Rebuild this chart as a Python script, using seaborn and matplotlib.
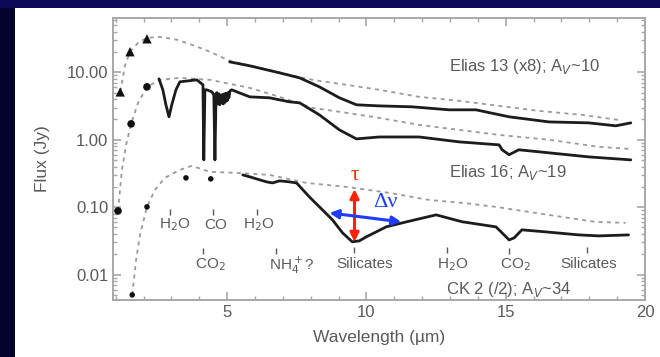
import matplotlib
matplotlib.use("Agg")
import numpy as np
import pandas as pd
import matplotlib.pyplot as plt
import seaborn as sns
from matplotlib.patches import Rectangle
from matplotlib.lines import Line2D
from matplotlib.ticker import FixedLocator, MultipleLocator, NullFormatter, LogLocator

sns.set_style("ticks")
plt.rcParams["font.family"] = ["Liberation Sans", "DejaVu Sans"]

# ---------------- spectra (wavelength in micron, flux in Jy) ----------------
e13_wl = [5.09, 5.81, 6.88, 7.60, 8.31, 9.03, 9.64, 10.46, 11.64, 12.97, 13.93,
          15.12, 16.55, 17.98, 18.95, 19.49]
e13_fx = [14.3, 12.5, 9.83, 8.28, 6.09, 4.19, 3.30, 3.18, 3.08, 2.78, 2.78,
          2.19, 1.84, 1.78, 1.61, 1.78]

e16_wl = [2.55, 2.69, 2.80, 2.91, 3.01, 3.16, 3.30, 3.91, 4.13, 4.16, 4.20, 4.27,
          4.45, 4.52, 4.56, 4.60, 4.63, 4.66, 4.70, 4.73, 4.76, 4.80, 4.83, 4.86,
          4.90, 4.93, 4.96, 5.00, 5.03, 5.06, 5.10, 5.16, 5.81, 6.52, 7.24,
          7.60, 8.31, 9.03, 9.64, 10.46, 11.89, 13.33, 14.76, 14.87, 15.12, 15.47,
          16.55, 17.98, 19.49]
e16_fx = [8.01, 5.50, 3.30, 2.19, 3.30, 5.50, 7.23, 7.74, 6.53, 0.503, 5.50, 5.50,
          5.14, 4.60, 0.503, 4.80, 5.00, 3.40, 4.80, 3.30, 4.60, 3.50, 4.70, 3.40,
          4.80, 3.60, 4.90, 3.80, 5.00, 4.20, 5.30, 5.50, 4.33, 4.19, 3.65,
          3.53, 2.34, 1.40, 1.03, 1.10, 1.10, 0.93, 0.84, 0.71, 0.60, 0.71,
          0.64, 0.557, 0.503]

ck2_wl = [5.56, 5.81, 6.17, 6.42, 6.63, 6.88, 7.24, 7.49, 7.95, 8.42, 8.78, 9.14,
          9.49, 9.74, 9.99, 10.71, 11.43, 12.50, 13.43, 14.65, 14.94, 15.12, 15.30,
          15.58, 16.44, 17.62, 18.34, 19.41]
ck2_fx = [0.301, 0.282, 0.254, 0.237, 0.229, 0.246, 0.237, 0.229, 0.142, 0.0912,
          0.0648, 0.0416, 0.0306, 0.0316, 0.0362, 0.0511, 0.0605, 0.0769, 0.0608,
          0.0510, 0.0388, 0.0327, 0.0350, 0.0461, 0.0430, 0.0388, 0.0375, 0.0388]

# ---------------- model continua ----------------
e13_cont_wl = [1.16, 1.33, 1.51, 1.80, 2.12, 2.59, 3.20, 3.84, 4.38, 5.09, 6.17,
               7.24, 8.06, 9.28, 10.46, 11.89, 13.33, 14.76, 16.19, 17.73, 19.05]
e13_cont_fx = [5.12, 12.5, 20.2, 27.4, 32.5, 33.6, 30.4, 24.7, 20.2, 14.8, 11.7,
               9.18, 7.74, 6.53, 5.50, 4.33, 3.78, 3.18, 2.68, 2.34, 1.97]

e16_cont_wl = [1.08, 1.22, 1.37, 1.55, 1.80, 2.12, 2.59, 3.30, 4.38, 5.81, 6.88,
               8.06, 9.28, 10.46, 11.89, 13.33, 14.76, 16.55, 18.34, 19.41]
e16_cont_fx = [0.088, 0.357, 0.84, 1.72, 3.53, 6.09, 7.74, 8.28, 7.74, 5.89, 4.33,
               2.97, 2.51, 2.11, 1.66, 1.40, 1.18, 1.00, 0.785, 0.733]

ck2_cont_wl = [1.59, 1.73, 1.87, 2.12, 2.41, 2.76, 3.30, 3.73, 4.38, 5.34, 6.52,
               7.85, 9.28, 10.82, 12.25, 13.43, 14.65, 15.83, 17.01, 18.23, 19.30]
ck2_cont_fx = [0.0050, 0.0166, 0.0388, 0.101, 0.181, 0.272, 0.357, 0.410, 0.334,
               0.323, 0.301, 0.229, 0.200, 0.163, 0.128, 0.116, 0.101, 0.0851,
               0.0718, 0.0605, 0.0585]

# ---------------- photometry ----------------
e13_phot_wl = [1.16, 1.51, 2.12]
e13_phot_fx = [5.12, 20.2, 31.4]
e16_phot_wl = [1.08, 1.55, 2.12]
e16_phot_fx = [0.088, 1.72, 6.09]
ck2_phot_wl = [1.59, 2.12, 3.52, 4.41]
ck2_phot_fx = [0.0050, 0.101, 0.272, 0.263]

# ---------------- feature labels ----------------
feat_text = ["H$_2$O", "CO", "H$_2$O", "CO$_2$", "NH$_4^+$?",
             "Silicates", "H$_2$O", "CO$_2$", "Silicates"]
feat_x = [3.13, 4.59, 6.13, 4.41, 7.31, 9.92, 13.11, 15.33, 17.98]
feat_y = [0.0549, 0.0549, 0.0549, 0.0140, 0.0140, 0.0142, 0.0142, 0.0142, 0.0142]
feat_tick_x = [2.94, 4.48, 6.06, 4.13, 6.77, 9.57, 12.90, 15.12, 17.91]
feat_tick_y0 = [0.0774, 0.0774, 0.0774, 0.0205, 0.0205, 0.0210, 0.0210, 0.0205, 0.0210]
feat_tick_y1 = [0.0944, 0.0944, 0.0944, 0.0250, 0.0250, 0.0258, 0.0258, 0.0250, 0.0258]

src_text = ["Elias 13 (x8); A$_V$~10", "Elias 16; A$_V$~19", "CK 2 (/2); A$_V$~34"]
src_x = [12.97, 12.97, 12.86]
src_y = [12.05, 0.323, 0.00593]

fig = plt.figure(figsize=(6.6, 3.57), dpi=100, facecolor="#03032e")
fig.patches.append(Rectangle((0, 0.978), 1, 0.022, transform=fig.transFigure,
                             facecolor="#0a0a58", edgecolor="none", zorder=-2))
fig.patches.append(Rectangle((0.0227, 0), 1 - 0.0227, 0.9776, transform=fig.transFigure,
                             facecolor="white", edgecolor="none", zorder=-1))
fig.lines.append(Line2D([0.9965, 0.9965], [0, 0.137], transform=fig.transFigure,
                        color="#9bb0dc", lw=1.2, zorder=-1))

ax = fig.add_axes([0.1712, 0.1597, 0.8061, 0.7899])
ax.set_zorder(1)
ax.set_facecolor("white")

cont_color = "#9a9a9a"
dash = (0, (2.2, 2.4))
spec_color = "#1c1c1c"

for wl, fx in [(e13_cont_wl, e13_cont_fx), (e16_cont_wl, e16_cont_fx), (ck2_cont_wl, ck2_cont_fx)]:
    sns.lineplot(x=wl, y=fx, ax=ax, sort=False, estimator=None, color=cont_color,
                 lw=1.3, linestyle=dash, zorder=2)

for wl, fx in [(e13_wl, e13_fx), (e16_wl, e16_fx), (ck2_wl, ck2_fx)]:
    sns.lineplot(x=wl, y=fx, ax=ax, sort=False, estimator=None, color=spec_color,
                 lw=2.0, zorder=3)

sns.scatterplot(x=e13_phot_wl, y=e13_phot_fx, ax=ax, marker="^", s=45,
                color="#111111", edgecolor="none", zorder=4)
sns.scatterplot(x=e16_phot_wl, y=e16_phot_fx, ax=ax, marker="o", s=30,
                color="#111111", edgecolor="none", zorder=4)
sns.scatterplot(x=ck2_phot_wl, y=ck2_phot_fx, ax=ax, marker="o", s=16,
                color="#111111", edgecolor="none", zorder=4)

ax.set_yscale("log")
ax.set_xlim(0.9, 20.0)
ax.set_ylim(0.0042, 64)

label_color = "#5a5a5a"
for t, x, y in zip(feat_text, feat_x, feat_y):
    ax.text(x, y, t, ha="center", va="center", fontsize=11, color=label_color, zorder=5)
ax.vlines(feat_tick_x, feat_tick_y0, feat_tick_y1, color=label_color, lw=1.0, zorder=5)

for t, x, y in zip(src_text, src_x, src_y):
    ax.text(x, y, t, ha="left", va="center", fontsize=12, color=label_color, zorder=5)

# optical depth and width of the silicate band
ax.annotate("", xy=(9.57, 0.0306), xytext=(9.57, 0.185),
            arrowprops=dict(arrowstyle="<|-|>", color="#ff2200", lw=2.2,
                            mutation_scale=13, shrinkA=0, shrinkB=0), zorder=6)
ax.annotate("", xy=(8.67, 0.0822), xytext=(11.25, 0.0605),
            arrowprops=dict(arrowstyle="<|-|>", color="#1f3cff", lw=2.2,
                            mutation_scale=13, shrinkA=0, shrinkB=0), zorder=6)
ax.text(9.57, 0.30, "τ", color="#ff2200", fontsize=15, ha="center", va="center",
        family=["Liberation Serif", "DejaVu Serif"], zorder=6)
ax.text(10.68, 0.118, "Δν", color="#1f3cff", fontsize=16, ha="center", va="center",
        family=["Liberation Serif", "DejaVu Serif"], zorder=6)

ax.yaxis.set_major_locator(FixedLocator([0.01, 0.1, 1, 10]))
ax.set_yticklabels(["0.01", "0.10", "1.00", "10.00"])
ax.yaxis.set_minor_locator(LogLocator(base=10, subs=np.arange(2, 10)))
ax.yaxis.set_minor_formatter(NullFormatter())
ax.xaxis.set_major_locator(FixedLocator([5, 10, 15, 20]))
ax.xaxis.set_minor_locator(MultipleLocator(1))

axis_color = "#a8a8a8"
for s in ax.spines.values():
    s.set_visible(True)
    s.set_color(axis_color)
    s.set_linewidth(1.4)
ax.tick_params(which="both", direction="in", top=True, right=True, color=axis_color,
               labelcolor=label_color, labelsize=12)
ax.tick_params(which="major", length=6, width=1.2)
ax.tick_params(which="minor", length=3, width=1.0)

ax.set_xlabel("Wavelength (µm)", fontsize=12.5, color=label_color, labelpad=7)
ax.set_ylabel("Flux (Jy)", fontsize=12.5, color=label_color, labelpad=12)

fig.savefig("out.png", dpi=100, facecolor=fig.get_facecolor())
